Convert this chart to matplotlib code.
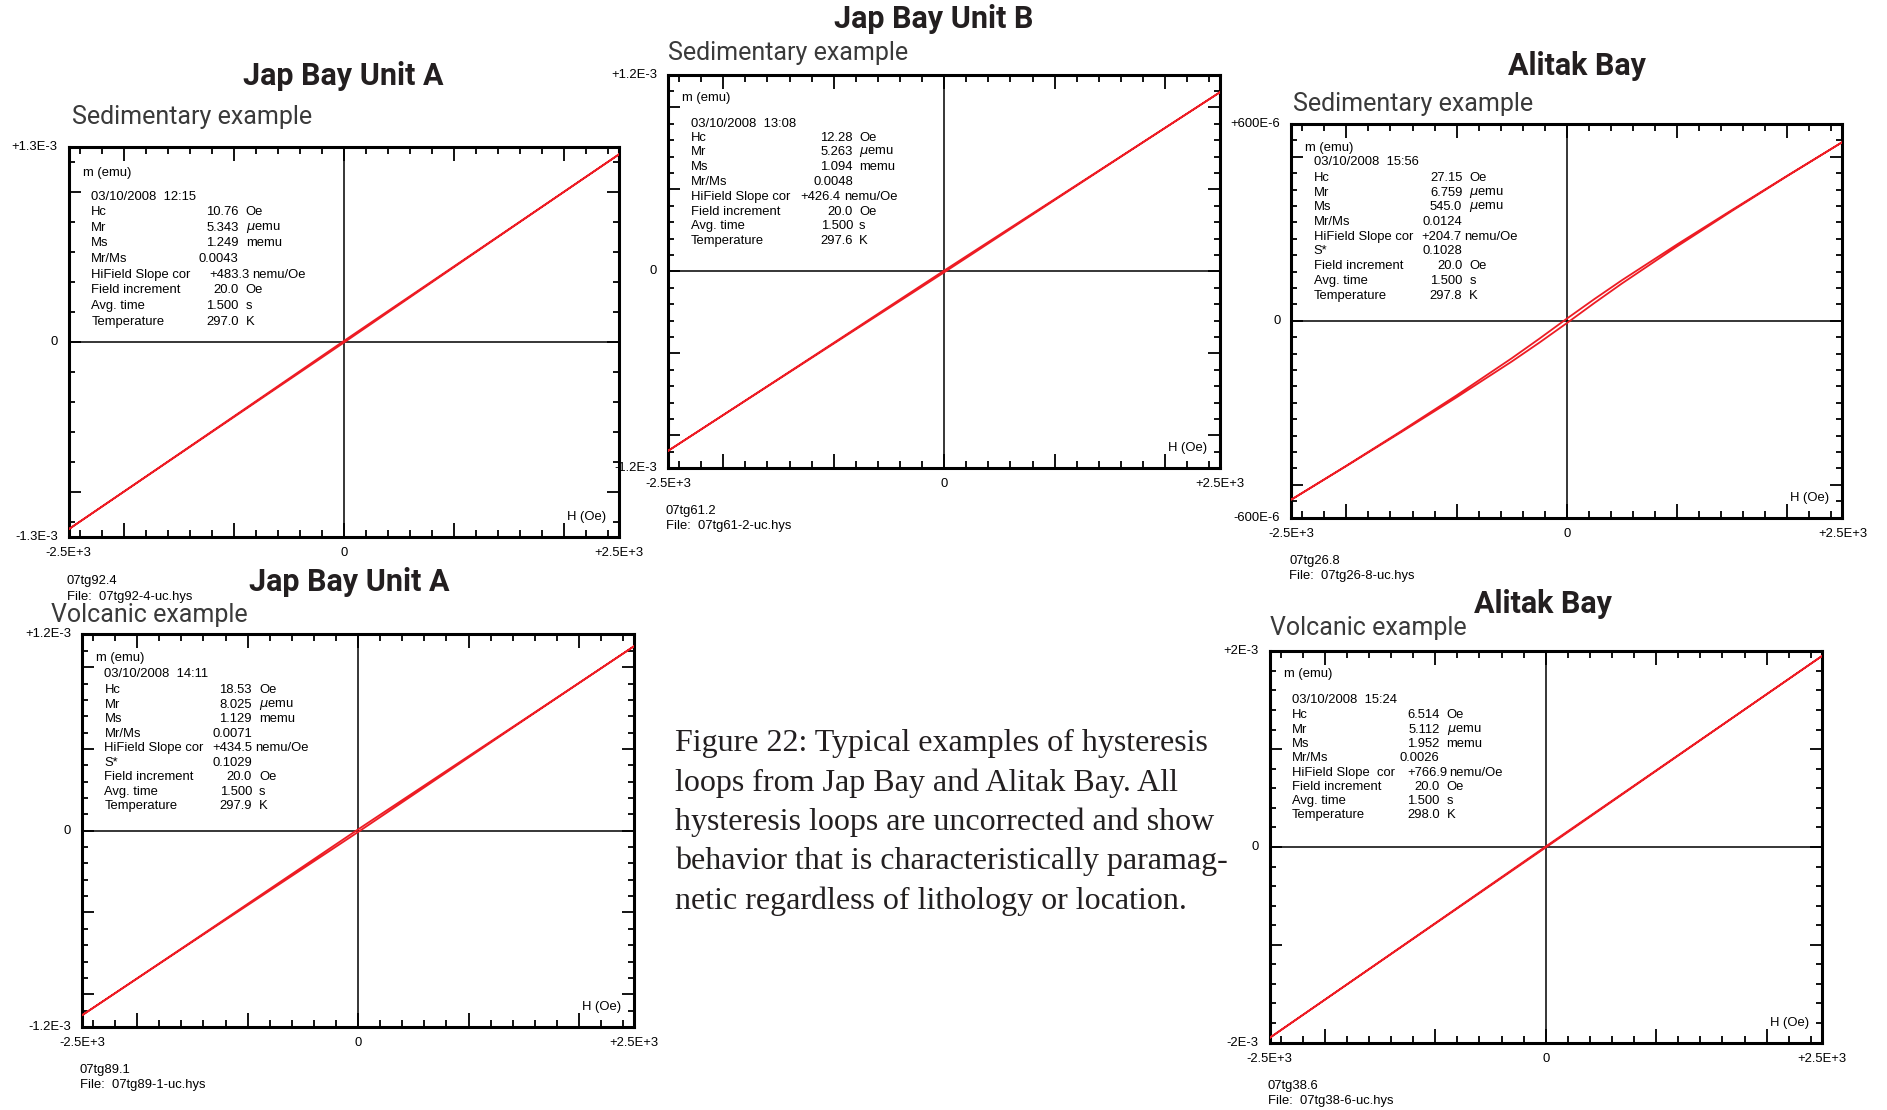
import matplotlib
matplotlib.use("Agg")
import matplotlib.pyplot as plt
from matplotlib.ticker import MultipleLocator
from matplotlib.transforms import offset_copy

# applied field steps (Oe)
field_oe = [-2500, -2000, -1500, -1000, -500, -250, 0, 250, 500, 1000, 1500, 2000, 2500]

# moment in micro-emu, listed by increasing field
# desc = upper branch (field sweeping down), asc = lower branch (sweeping up)
jap_a_sed_desc = [-1249, -998.8, -748.2, -497.1, -245.8, -120.1, 5.3, 129.7, 253.8, 502.1, 750.6, 999.6, 1249]
jap_a_sed_asc = [-1249, -999.6, -750.6, -502.1, -253.8, -129.7, -5.3, 120.1, 245.8, 497.1, 748.2, 998.8, 1249]

jap_b_sed_desc = [-1094, -874.8, -655.2, -435.1, -214.8, -104.6, 5.3, 114.2, 222.8, 440.1, 657.6, 875.6, 1094]
jap_b_sed_asc = [-1094, -875.6, -657.6, -440.1, -222.8, -114.2, -5.3, 104.6, 214.8, 435.1, 655.2, 874.8, 1094]

alitak_sed_desc = [-545, -441.5, -335.5, -227.0, -114.0, -54.5, 6.8, 66.5, 124.0, 233.0, 338.5, 442.5, 545]
alitak_sed_asc = [-545, -442.5, -338.5, -233.0, -124.0, -66.5, -6.8, 54.5, 114.0, 227.0, 335.5, 441.5, 545]

jap_a_volc_desc = [-1129, -902.6, -675.6, -447.8, -219.8, -105.7, 8.0, 120.1, 231.8, 455.4, 679.2, 903.8, 1129]
jap_a_volc_asc = [-1129, -903.8, -679.2, -455.4, -231.8, -120.1, -8.0, 105.7, 219.8, 447.8, 675.6, 902.6, 1129]

alitak_volc_desc = [-1952, -1561.2, -1170.0, -778.4, -386.6, -190.6, 5.1, 199.8, 394.2, 783.2, 1172.4, 1562.0, 1952]
alitak_volc_asc = [-1952, -1562.0, -1172.4, -783.2, -394.2, -199.8, -5.1, 190.6, 386.6, 778.4, 1170.0, 1561.2, 1952]

MU = r'$\mu$emu'

jap_a_sed_stats = [('Hc', '10.76', 'Oe'), ('Mr', '5.343', MU), ('Ms', '1.249', 'memu'),
                   ('Mr/Ms', '0.0043', ''), ('HiField Slope cor', '+483.3', 'nemu/Oe'),
                   ('Field increment', '20.0', 'Oe'), ('Avg. time', '1.500', 's'),
                   ('Temperature', '297.0', 'K')]
jap_b_sed_stats = [('Hc', '12.28', 'Oe'), ('Mr', '5.263', MU), ('Ms', '1.094', 'memu'),
                   ('Mr/Ms', '0.0048', ''), ('HiField Slope cor', '+426.4', 'nemu/Oe'),
                   ('Field increment', '20.0', 'Oe'), ('Avg. time', '1.500', 's'),
                   ('Temperature', '297.6', 'K')]
alitak_sed_stats = [('Hc', '27.15', 'Oe'), ('Mr', '6.759', MU), ('Ms', '545.0', MU),
                    ('Mr/Ms', '0.0124', ''), ('HiField Slope cor', '+204.7', 'nemu/Oe'),
                    ('S*', '0.1028', ''), ('Field increment', '20.0', 'Oe'),
                    ('Avg. time', '1.500', 's'), ('Temperature', '297.8', 'K')]
jap_a_volc_stats = [('Hc', '18.53', 'Oe'), ('Mr', '8.025', MU), ('Ms', '1.129', 'memu'),
                    ('Mr/Ms', '0.0071', ''), ('HiField Slope cor', '+434.5', 'nemu/Oe'),
                    ('S*', '0.1029', ''), ('Field increment', '20.0', 'Oe'),
                    ('Avg. time', '1.500', 's'), ('Temperature', '297.9', 'K')]
alitak_volc_stats = [('Hc', '6.514', 'Oe'), ('Mr', '5.112', MU), ('Ms', '1.952', 'memu'),
                     ('Mr/Ms', '0.0026', ''), ('HiField Slope  cor', '+766.9', 'nemu/Oe'),
                     ('Field increment', '20.0', 'Oe'), ('Avg. time', '1.500', 's'),
                     ('Temperature', '298.0', 'K')]

caption = ("Figure 22: Typical examples of hysteresis\n"
           "loops from Jap Bay and Alitak Bay. All\n"
           "hysteresis loops are uncorrected and show\n"
           "behavior that is characteristically paramag-\n"
           "netic regardless of lithology or location.")

# rect, y range (uemu), y label, tick steps, title/subtitle spots, box layout
panels = [
    dict(rect=[0.0364, 0.5163, 0.2915, 0.3514], ymax=1300, ylab='1.3E-3', ystep=(1000, 200),
         desc=jap_a_sed_desc, asc=jap_a_sed_asc, stats=jap_a_sed_stats,
         date='03/10/2008  12:15', sample='07tg92.4', file='07tg92-4-uc.hys',
         title='Jap Bay Unit A', tpos=(0.1818, 0.9317),
         sub='Sedimentary example', spos=(0.0383, 0.8948),
         mrow=26, drow=50, hrow=65, gap=15.7, vcol=170, ucol=177, hf=(181, 183), foot=(44, 60)),
    dict(rect=[0.3540, 0.5781, 0.2927, 0.3547], ymax=1200, ylab='1.2E-3', ystep=(500, 100),
         desc=jap_b_sed_desc, asc=jap_b_sed_asc, stats=jap_b_sed_stats,
         date='03/10/2008  13:08', sample='07tg61.2', file='07tg61-2-uc.hys',
         title='Jap Bay Unit B', tpos=(0.4949, 0.9826),
         sub='Sedimentary example', spos=(0.3540, 0.9523),
         mrow=23, drow=49, hrow=63, gap=14.8, vcol=185, ucol=191, hf=(172, 176), foot=(43, 58)),
    dict(rect=[0.6843, 0.5336, 0.2921, 0.3547], ymax=600, ylab='600E-6', ystep=(500, 50),
         desc=alitak_sed_desc, asc=alitak_sed_asc, stats=alitak_sed_stats,
         date='03/10/2008  15:56', sample='07tg26.8', file='07tg26-8-uc.hys',
         title='Alitak Bay', tpos=(0.8355, 0.9403),
         sub='Sedimentary example', spos=(0.6850, 0.9067),
         mrow=24, drow=38, hrow=54, gap=14.7, vcol=171, ucol=178, hf=(170, 173), foot=(43, 58)),
    dict(rect=[0.0434, 0.0748, 0.2927, 0.3536], ymax=1200, ylab='1.2E-3', ystep=(500, 100),
         desc=jap_a_volc_desc, asc=jap_a_volc_asc, stats=jap_a_volc_stats,
         date='03/10/2008  14:11', sample='07tg89.1', file='07tg89-1-uc.hys',
         title='Jap Bay Unit A', tpos=(0.1849, 0.4761),
         sub='Volcanic example', spos=(0.0268, 0.4458),
         mrow=24, drow=40, hrow=56, gap=14.5, vcol=170, ucol=177, hf=(170, 173), foot=(43, 58)),
    dict(rect=[0.6728, 0.0607, 0.2927, 0.3525], ymax=2000, ylab='2E-3', ystep=(1000, 200),
         desc=alitak_volc_desc, asc=alitak_volc_asc, stats=alitak_volc_stats,
         date='03/10/2008  15:24', sample='07tg38.6', file='07tg38-6-uc.hys',
         title='Alitak Bay', tpos=(0.8176, 0.4555),
         sub='Volcanic example', spos=(0.6728, 0.4338),
         mrow=23, drow=49, hrow=64, gap=14.3, vcol=170, ucol=177, hf=(178, 180), foot=(43, 58)),
]

RED = '#ed1c24'
INK = '#231f20'
SMALL = dict(family='Liberation Sans', size=9.4, color='black')

fig = plt.figure(figsize=(18.87, 11.10), dpi=100)


def put(ax, dx, dy, s, ref=(0, 1), **kw):
    # place text at a pixel offset from a corner of the axes (dy grows downward)
    tr = offset_copy(ax.transAxes, fig=fig, x=dx, y=-dy, units='dots')
    opts = dict(SMALL)
    opts.update(kw)
    ax.text(ref[0], ref[1], s, transform=tr, clip_on=False, **opts)


for p in panels:
    ax = fig.add_axes(p['rect'])
    ax.set_xlim(-2500, 2500)
    ax.set_ylim(-p['ymax'], p['ymax'])

    ax.axhline(0, color='black', lw=1.1, zorder=1)
    ax.axvline(0, color='black', lw=1.1, zorder=1)

    hx = field_oe[::-1] + field_oe
    my = p['desc'][::-1] + p['asc']
    ax.plot(hx, my, color=RED, lw=1.3, zorder=3)

    for side in ax.spines.values():
        side.set_linewidth(2.2)
    ax.xaxis.set_major_locator(MultipleLocator(1000))
    ax.xaxis.set_minor_locator(MultipleLocator(200))
    ax.yaxis.set_major_locator(MultipleLocator(p['ystep'][0]))
    ax.yaxis.set_minor_locator(MultipleLocator(p['ystep'][1]))
    ax.tick_params(which='both', direction='in', top=True, right=True,
                   labelbottom=False, labelleft=False, width=1.3, color='black')
    ax.tick_params(axis='x', which='major', length=10)
    ax.tick_params(axis='x', which='minor', length=5)
    ax.tick_params(axis='y', which='major', length=8.5)
    ax.tick_params(axis='y', which='minor', length=4.3)

    # scale labels
    put(ax, -11, 0, '+' + p['ylab'], ref=(0, 1), ha='right', va='center')
    put(ax, -11, 0, '0', ref=(0, 0.5), ha='right', va='center')
    put(ax, -11, 0, '-' + p['ylab'], ref=(0, 0), ha='right', va='center')
    put(ax, 0, 16, '-2.5E+3', ref=(0, 0), ha='center', va='center')
    put(ax, 0, 16, '0', ref=(0.5, 0), ha='center', va='center')
    put(ax, 0, 16, '+2.5E+3', ref=(1, 0), ha='center', va='center')

    put(ax, 14, p['mrow'], 'm (emu)', va='center')
    put(ax, -13, -20, 'H (Oe)', ref=(1, 0), ha='right', va='center')

    # measurement summary box
    put(ax, 22.6, p['drow'], p['date'], va='center')
    for i, (name, val, unit) in enumerate(p['stats']):
        y = p['hrow'] + i * p['gap']
        vx, ux = p['vcol'], p['ucol']
        if name.startswith('HiField'):
            vx, ux = p['hf']
        put(ax, 22.6, y, name, va='center')
        put(ax, vx, y, val, ha='right', va='center')
        if unit:
            put(ax, ux, y, unit, va='center')

    put(ax, -2, p['foot'][0], p['sample'], ref=(0, 0), va='center')
    put(ax, -2, p['foot'][1], 'File:  ' + p['file'], ref=(0, 0), va='center')

    fig.text(p['tpos'][0], p['tpos'][1], p['title'], ha='center', va='center',
             family='Roboto', weight='bold', size=22, color=INK)
    fig.text(p['spos'][0], p['spos'][1], p['sub'], ha='left', va='center',
             family='Roboto', size=18, color='#3a3a3a')

fig.text(0.3578, 0.343, caption, ha='left', va='top', family='Liberation Serif',
         size=23, linespacing=1.44, color=INK)

fig.savefig('out.png', dpi=100)
